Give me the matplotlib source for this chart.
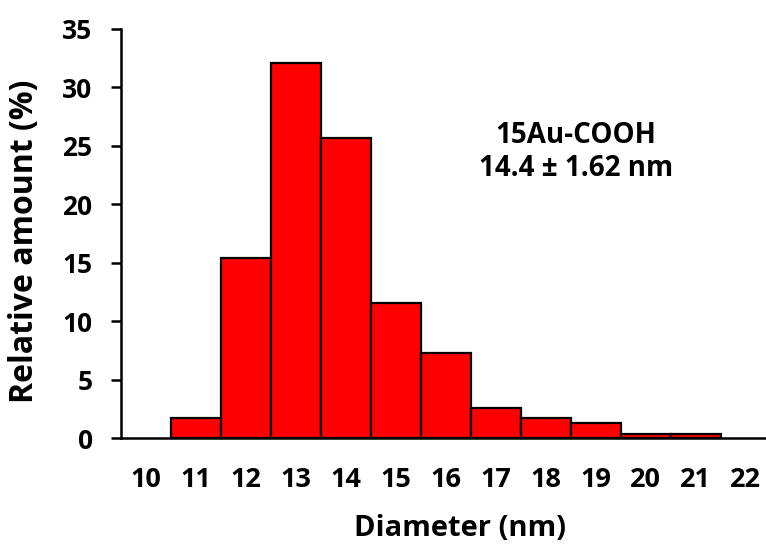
import matplotlib
matplotlib.use("Agg")
import matplotlib.pyplot as plt

# particle size distribution
diameters = [11, 12, 13, 14, 15, 16, 17, 18, 19, 20, 21]
amounts = [1.7, 15.4, 32.1, 25.7, 11.6, 7.3, 2.6, 1.7, 1.3, 0.4, 0.4]
x_ticks = list(range(10, 23))
y_ticks = [0, 5, 10, 15, 20, 25, 30, 35]

plt.rcParams['font.family'] = ['Open Sans', 'DejaVu Sans']
plt.rcParams['font.weight'] = 'bold'

fig = plt.figure(figsize=(7.66, 5.44), dpi=100)
ax = fig.add_axes([0.1576, 0.1943, 0.8424, 0.7524])

ax.bar(diameters, amounts, width=1.0, color='#ff0000', edgecolor='black', linewidth=1.6)

ax.set_xlim(9.5, 9.5 + (766 - 120.7) / 50.0)
ax.set_ylim(0, 35)
ax.set_xticks(x_ticks)
ax.set_yticks(y_ticks)
ax.tick_params(axis='x', length=0, pad=21, labelsize=19.5)
ax.tick_params(axis='y', direction='out', length=7.2, width=1.8, pad=13, labelsize=19)
for lab in ax.get_xticklabels() + ax.get_yticklabels():
    lab.set_fontweight('bold')

for side in ('top', 'right'):
    ax.spines[side].set_visible(False)
for side in ('left', 'bottom'):
    ax.spines[side].set_linewidth(1.8)

ax.set_xlabel('Diameter (nm)', fontsize=21, fontweight='bold')
ax.xaxis.set_label_coords(0.526, -0.185)
ax.set_ylabel('Relative amount (%)', fontsize=23, fontweight='bold')
ax.yaxis.set_label_coords(-0.124, 0.482)

ax.text(0.7056, 0.70, '15Au-COOH\n14.4 \u00b1 1.62 nm', transform=ax.transAxes,
        ha='center', va='center', fontsize=20, fontweight='bold', linespacing=1.2)

fig.savefig('out.png', dpi=100)
